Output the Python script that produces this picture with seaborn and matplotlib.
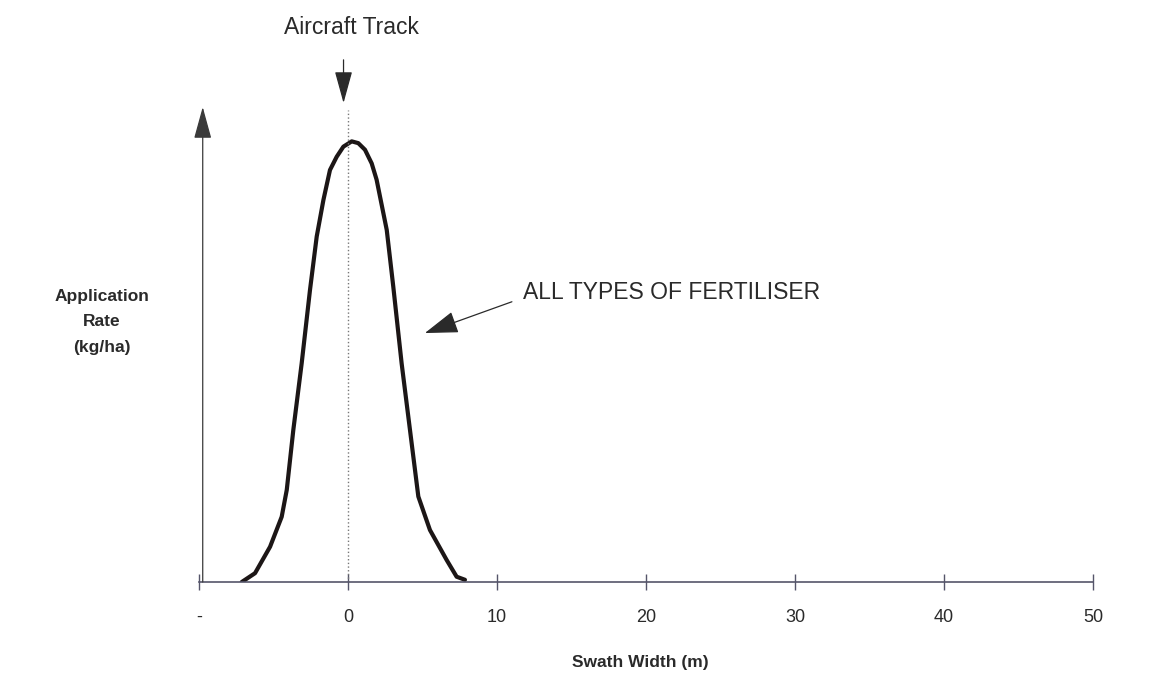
import pandas as pd
import seaborn as sns
import matplotlib.pyplot as plt

# spread pattern (x = swath position in m, y = relative rate)
swath_x = [-7.13, -6.24, -5.23, -4.45, -4.11, -3.67, -3.11, -2.55, -2.10, -1.65, -1.21,
           -0.76, -0.31, 0.25, 0.69, 1.14, 1.59, 1.92, 2.60, 3.04, 3.60, 4.16, 4.72,
           5.50, 6.62, 7.29, 7.85]
rate_y = [0.0, 2.0, 8.0, 14.8, 20.9, 34.5, 49.6, 66.3, 78.4, 86.7, 93.5,
          96.5, 98.8, 100.0, 99.6, 98.1, 95.0, 91.3, 79.9, 67.0, 49.6, 34.5, 19.4,
          11.8, 5.0, 1.2, 0.5]

tick_pos = [-10, 0, 10, 20, 30, 40, 50]
tick_labels = ['-', '0', '10', '20', '30', '40', '50']

df = pd.DataFrame({'x': swath_x, 'y': rate_y})

sns.set_style('white')
plt.rcParams['font.family'] = ['Liberation Sans', 'DejaVu Sans']

fig = plt.figure(figsize=(11.52, 6.75), dpi=100)
ax = fig.add_axes([199 / 1152, 93 / 675, 894 / 1152, 475 / 675])

sns.lineplot(data=df, x='x', y='y', ax=ax, color='#1c1616', linewidth=3.0,
             sort=False, solid_capstyle='round', solid_joinstyle='round')

ax.set_xlim(-10, 50)
ax.set_ylim(0, 107.8)
ax.set_xlabel('')
ax.set_ylabel('')
ax.set_yticks([])
ax.set_xticks(tick_pos)
ax.set_xticklabels(tick_labels, fontsize=13, color='#2a2a2a')
ax.tick_params(axis='x', bottom=True, direction='inout', length=11, width=1.0,
               color='#55556a', pad=14)

for s in ['top', 'right', 'left']:
    ax.spines[s].set_visible(False)
ax.spines['bottom'].set_color('#55556a')
ax.spines['bottom'].set_linewidth(1.2)

# vertical axis drawn as an arrow
ax.annotate('', xy=(-9.75, 107.8), xytext=(-9.75, 0), annotation_clip=False,
            arrowprops=dict(arrowstyle='-|>,head_length=2.0,head_width=0.55',
                            mutation_scale=10, color='#3a3a3a', lw=0.9,
                            shrinkA=0, shrinkB=0))

# aircraft track
ax.plot([0, 0], [0, 107.2], linestyle=':', color='#777777', linewidth=1.0,
        clip_on=False)
ax.annotate('', xy=(-0.3, 108.7), xytext=(-0.3, 118.5), annotation_clip=False,
            arrowprops=dict(arrowstyle='-|>,head_length=2.0,head_width=0.55',
                            mutation_scale=10, color='#2a2a2a', lw=0.9,
                            shrinkA=0, shrinkB=0))
ax.text(0.25, 125.8, 'Aircraft Track', ha='center', va='center',
        fontsize=16.5, color='#2a2a2a', clip_on=False)

# curve label
ax.annotate('', xy=(5.16, 56.5), xytext=(11.0, 63.6), annotation_clip=False,
            arrowprops=dict(arrowstyle='-|>,head_length=2.1,head_width=0.7',
                            mutation_scale=10, color='#2a2a2a', lw=0.9,
                            shrinkA=0, shrinkB=0))
ax.text(11.74, 65.6, 'ALL TYPES OF FERTILISER', ha='left', va='center',
        fontsize=16.5, color='#2a2a2a')

fig.text(101.7 / 1152, 1 - 322 / 675, 'Application\nRate\n(kg/ha)',
         ha='center', va='center', multialignment='center', fontsize=12.5,
         fontweight='bold', linespacing=1.85, color='#2a2a2a')
fig.text(640 / 1152, 1 - 662 / 675, 'Swath Width (m)', ha='center', va='center',
         fontsize=12.5, fontweight='bold', color='#2a2a2a')

fig.savefig('out.png', dpi=100, facecolor='white')
